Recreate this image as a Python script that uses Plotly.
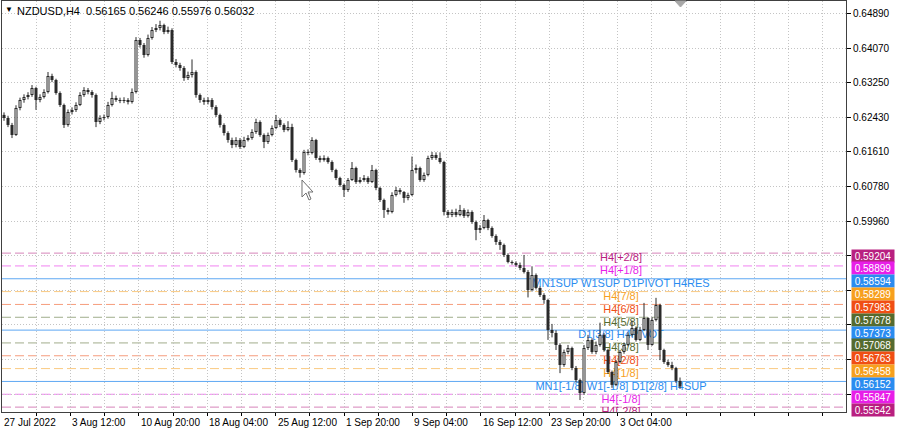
import plotly.graph_objects as go

# ---------------- data ----------------
symbol_title = "NZDUSD,H4  0.56165 0.56246 0.55976 0.56032"
first_open = 0.6249
closes = [
    0.62417, 0.62251, 0.62013, 0.62655, 0.62845, 0.62916, 0.62964, 0.63130, 0.62845, 0.62916,
    0.63035, 0.63416, 0.63321, 0.63011, 0.62726, 0.62251, 0.62560, 0.62607, 0.62726, 0.62964,
    0.63083, 0.63035, 0.62964, 0.62322, 0.62417, 0.62441, 0.62726, 0.62893, 0.62845, 0.62821,
    0.62845, 0.62797, 0.63035, 0.64272, 0.64153, 0.63915, 0.64319, 0.64509, 0.64557, 0.64628,
    0.64462, 0.64509, 0.63749, 0.63677, 0.63606, 0.63368, 0.63440, 0.63511, 0.62964, 0.62845,
    0.62797, 0.62845, 0.62679, 0.62488, 0.62251, 0.62060, 0.61894, 0.61775, 0.61894, 0.61727,
    0.61894, 0.61941, 0.62084, 0.62322, 0.62013, 0.61846, 0.62013, 0.62179, 0.62369, 0.62251,
    0.62132, 0.62203, 0.61418, 0.61180, 0.61109, 0.61608, 0.61585, 0.61894, 0.61466, 0.61418,
    0.61466, 0.61371, 0.61180, 0.60990, 0.60824, 0.60705, 0.60943, 0.61228, 0.60895, 0.60943,
    0.60990, 0.60895, 0.61180, 0.60752, 0.60467, 0.60229, 0.60182, 0.60586, 0.60705, 0.60657,
    0.60515, 0.60586, 0.61180, 0.61228, 0.60943, 0.61062, 0.61466, 0.61537, 0.61466, 0.61371,
    0.60182, 0.60110, 0.60182, 0.60110, 0.60229, 0.60087, 0.60182, 0.59944, 0.59754, 0.59801,
    0.59991, 0.59801, 0.59611, 0.59468, 0.59397, 0.59159, 0.58993, 0.58969, 0.58922, 0.58851,
    0.58755, 0.58327, 0.58684, 0.58374, 0.58208, 0.58089, 0.57376, 0.57305, 0.57020, 0.56543,
    0.56852, 0.56948, 0.56472, 0.56187, 0.55878, 0.56948, 0.57138, 0.56852, 0.57020, 0.57260,
    0.56900, 0.56377, 0.56070, 0.56615, 0.56852, 0.57020, 0.57260, 0.57423, 0.57138, 0.57376,
    0.57661, 0.57020, 0.57614, 0.57970, 0.56900, 0.56615, 0.56543, 0.56472, 0.56165, 0.56032,
]
highs = [
    0.6255, 0.6247, 0.6230, 0.6272, 0.6290, 0.6298, 0.6303, 0.6320, 0.6316, 0.6298,
    0.6310, 0.6351, 0.6347, 0.6335, 0.6305, 0.6276, 0.6262, 0.6267, 0.6279, 0.6303,
    0.6315, 0.6313, 0.6308, 0.6300, 0.6248, 0.6250, 0.6280, 0.6304, 0.6295, 0.6290,
    0.6291, 0.6289, 0.6312, 0.6434, 0.6432, 0.6420, 0.6440, 0.6458, 0.6465, 0.6473,
    0.6466, 0.6459, 0.6455, 0.6382, 0.6373, 0.6365, 0.6352, 0.6381, 0.6355, 0.6300,
    0.6290, 0.6291, 0.6289, 0.6272, 0.6252, 0.6229, 0.6210, 0.6195, 0.6196, 0.6194,
    0.6197, 0.6201, 0.6215, 0.6240, 0.6236, 0.6205, 0.6207, 0.6224, 0.6249, 0.6241,
    0.6229, 0.6234, 0.6228, 0.6145, 0.6122, 0.6166, 0.6167, 0.6196, 0.6192, 0.6152,
    0.6153, 0.6150, 0.6141, 0.6121, 0.6102, 0.6086, 0.6099, 0.6137, 0.6126, 0.6101,
    0.6106, 0.6103, 0.6130, 0.6121, 0.6078, 0.6050, 0.6028, 0.6065, 0.6078, 0.6075,
    0.6068, 0.6064, 0.6150, 0.6131, 0.6126, 0.6112, 0.6152, 0.6161, 0.6160, 0.6160,
    0.6140, 0.6023, 0.6024, 0.6026, 0.6035, 0.6027, 0.6024, 0.6022, 0.5998, 0.5987,
    0.6011, 0.6002, 0.5984, 0.5965, 0.5952, 0.5943, 0.5920, 0.5903, 0.5901, 0.5898,
    0.5916, 0.5880, 0.5889, 0.5872, 0.5841, 0.5825, 0.5812, 0.5752, 0.5737, 0.5706,
    0.5691, 0.5702, 0.5698, 0.5652, 0.5622, 0.5702, 0.5726, 0.5718, 0.5710, 0.5755,
    0.5730, 0.5693, 0.5641, 0.5666, 0.5690, 0.5708, 0.5732, 0.5760, 0.5746, 0.5745,
    0.5802, 0.5768, 0.5768, 0.5814, 0.5800, 0.5693, 0.5667, 0.5662, 0.5650, 0.56246,
]
lows = [
    0.6235, 0.6220, 0.6194, 0.6199, 0.6260, 0.6278, 0.6286, 0.6292, 0.6261, 0.6279,
    0.6288, 0.6300, 0.6327, 0.6297, 0.6268, 0.6218, 0.6221, 0.6250, 0.6256, 0.6270,
    0.6292, 0.6298, 0.6290, 0.6220, 0.6227, 0.6236, 0.6240, 0.6269, 0.6280, 0.6277,
    0.6277, 0.6274, 0.6276, 0.6300, 0.6409, 0.6385, 0.6388, 0.6428, 0.6446, 0.6450,
    0.6441, 0.6442, 0.6370, 0.6362, 0.6354, 0.6330, 0.6332, 0.6338, 0.6290, 0.6278,
    0.6273, 0.6274, 0.6262, 0.6244, 0.6219, 0.6200, 0.6183, 0.6170, 0.6172, 0.6168,
    0.6170, 0.6186, 0.6190, 0.6204, 0.6197, 0.6170, 0.6180, 0.6198, 0.6215, 0.6220,
    0.6208, 0.6210, 0.6137, 0.6112, 0.6100, 0.6107, 0.6153, 0.6155, 0.6142, 0.6136,
    0.6138, 0.6133, 0.6113, 0.6094, 0.6078, 0.6054, 0.6066, 0.6092, 0.6085, 0.6086,
    0.6090, 0.6085, 0.6087, 0.6070, 0.6042, 0.6004, 0.6012, 0.6015, 0.6055, 0.6060,
    0.6040, 0.6046, 0.6056, 0.6110, 0.6090, 0.6090, 0.6103, 0.6142, 0.6142, 0.6133,
    0.6010, 0.6004, 0.6006, 0.6006, 0.6008, 0.6004, 0.6005, 0.5990, 0.5951, 0.5968,
    0.5977, 0.5975, 0.5957, 0.5940, 0.5928, 0.5911, 0.5896, 0.5893, 0.5888, 0.5880,
    0.5872, 0.5815, 0.5829, 0.5834, 0.5816, 0.5800, 0.5714, 0.5720, 0.5690, 0.5635,
    0.5650, 0.5680, 0.5642, 0.5613, 0.5571, 0.5584, 0.5690, 0.5681, 0.5680, 0.5698,
    0.5686, 0.5633, 0.5600, 0.5604, 0.5658, 0.5681, 0.5699, 0.5722, 0.5710, 0.5711,
    0.5735, 0.5690, 0.5700, 0.5758, 0.5666, 0.5657, 0.5650, 0.5642, 0.5612, 0.55976,
]
opens = [first_open] + closes[:-1]
bar_index = list(range(len(closes)))

time_labels = ["27 Jul 2022", "3 Aug 12:00", "10 Aug 20:00", "18 Aug 04:00", "25 Aug 12:00",
               "1 Sep 20:00", "9 Sep 04:00", "16 Sep 12:00", "23 Sep 20:00", "3 Oct 04:00"]
price_ticks = [0.64890, 0.64070, 0.63250, 0.62430, 0.61610, 0.60780, 0.59960,
               0.59139, 0.58317, 0.57496, 0.56674, 0.55853]
price_tick_text = ["0.64890", "0.64070", "0.63250", "0.62430", "0.61610", "0.60780", "0.59960",
                   "", "", "", "", ""]

level_prices = [0.59204, 0.58899, 0.58594, 0.58289, 0.57983, 0.57678, 0.57373,
                0.57068, 0.56763, 0.56458, 0.56152, 0.55847, 0.55542]
level_names = ["H4[+2/8]", "H4[+1/8]", "MN1SUP W1SUP D1PIVOT H4RES", "H4[7/8]", "H4[6/8]",
               "H4[5/8]", "D1[3/8] H4PIVOT", "H4[3/8]", "H4[2/8]", "H4[1/8]",
               "MN1[-1/8] W1[-1/8] D1[2/8] H4SUP", "H4[-1/8]", "H4[-2/8]"]
level_solid = [False, False, True, False, False, False, True, False, False, False, True, False, False]

# ---------------- styles ----------------
C_VIOLET = "#B82080"
C_MAGENTA = "#E81EE8"
C_BLUE = "#2A8CF0"
C_ORANGE = "#F7A01E"
C_ORED = "#F04E14"
C_OLIVE = "#556B2F"
level_colors = [C_VIOLET, C_MAGENTA, C_BLUE, C_ORANGE, C_ORED, C_OLIVE, C_BLUE,
                C_OLIVE, C_ORED, C_ORANGE, C_BLUE, C_MAGENTA, C_VIOLET]
FONT = "Liberation Sans, Arial, sans-serif"
CANDLE = "#2a2a2a"

W, H = 900, 431
ML, MR, MT, MB = 2, 54, 1, 19
PW, PH = W - ML - MR, H - MT - MB
PX_PER_BAR = 4.0
x0 = -0.5
x1 = x0 + PW / PX_PER_BAR
y_lo, y_hi = 0.554256, 0.65199
PRICE_PER_PX = (y_hi - y_lo) / PH
GRID_STEP = 34.2 / PX_PER_BAR
grid_x = [x0 + GRID_STEP * m for m in range(1, 25)]
label_x = [x0 + 2 * GRID_STEP * k for k in range(len(time_labels))]
level_text_x = x0 + (621 - ML) / PX_PER_BAR

fig = go.Figure()

for p, col, solid in zip(level_prices, level_colors, level_solid):
    fig.add_shape(type="line", xref="paper", x0=0, x1=1, yref="y", y0=p, y1=p,
                  line=dict(color=col, width=1, dash="solid" if solid else "9px,4px"),
                  opacity=0.75 if solid else 0.55, layer="below")

# level texts (drawn first so the candles lie over them, as in the original)
fig.add_trace(go.Scatter(
    x=[level_text_x] * len(level_prices), y=level_prices, mode="text",
    text=level_names, textposition="bottom center",
    textfont=dict(family=FONT, size=11, color=level_colors),
    cliponaxis=True, hoverinfo="skip", showlegend=False))

# candles: wicks, bodies, hollow interior of up-bodies
wx, wy, bx, by, ux, uy = [], [], [], [], [], []
for i, o, h, l, c in zip(bar_index, opens, highs, lows, closes):
    wx += [i, i, None]
    wy += [l, h, None]
    lo_b, hi_b = min(o, c), max(o, c)
    if hi_b - lo_b < PRICE_PER_PX:
        mid = (hi_b + lo_b) / 2
        lo_b, hi_b = mid - PRICE_PER_PX / 2, mid + PRICE_PER_PX / 2
    bx += [i, i, None]
    by += [lo_b, hi_b, None]
    if c > o and hi_b - lo_b > 2.5 * PRICE_PER_PX:
        ux += [i, i, None]
        uy += [lo_b + PRICE_PER_PX, hi_b - PRICE_PER_PX, None]

fig.add_trace(go.Scatter(x=wx, y=wy, mode="lines", line=dict(color=CANDLE, width=1),
                         hoverinfo="skip", showlegend=False))
fig.add_trace(go.Scatter(x=bx, y=by, mode="lines", line=dict(color=CANDLE, width=3),
                         hoverinfo="skip", showlegend=False))
fig.add_trace(go.Scatter(x=ux, y=uy, mode="lines", line=dict(color="white", width=1),
                         hoverinfo="skip", showlegend=False))

annotations = []
for p, col in zip(level_prices, level_colors):
    annotations.append(dict(
        x=1, xref="paper", xanchor="left", xshift=5, y=p, yref="y", yanchor="middle", yshift=-2.5,
        text="%.5f" % p, showarrow=False, bgcolor=col, width=40, height=10, borderpad=1,
        font=dict(family=FONT, size=10, color="white"), align="center"))
for lx, lt in zip(label_x, time_labels):
    annotations.append(dict(
        x=lx, xref="x", xanchor="left", xshift=0, y=0, yref="paper", yanchor="top", yshift=-3,
        text=lt, showarrow=False, font=dict(family=FONT, size=10, color="black")))
annotations.append(dict(x=0, xref="paper", xanchor="left", xshift=1, y=1, yref="paper",
                        yanchor="top", yshift=-2, text="▼", showarrow=False,
                        font=dict(family=FONT, size=8, color="black")))
annotations.append(dict(x=0, xref="paper", xanchor="left", xshift=13, y=1, yref="paper",
                        yanchor="top", yshift=-2, text=symbol_title, showarrow=False,
                        font=dict(family=FONT, size=11, color="black")))

def ppath(points):
    s = ""
    for i, (px, py) in enumerate(points):
        s += ("M" if i == 0 else "L") + "%.5f,%.5f " % ((px - ML) / PW, (H - MB - py) / PH)
    return s + "Z"

shapes_extra = [
    dict(type="path", xref="paper", yref="paper",
         path=ppath([(302, 180), (302, 197), (306, 193), (309, 200), (311, 199), (308, 192), (313, 192)]),
         fillcolor="white", line=dict(color="#707070", width=1), layer="above"),
    dict(type="path", xref="paper", yref="paper",
         path=ppath([(675, 1), (686, 1), (680.5, 7)]),
         fillcolor="#A8A8A8", line=dict(color="#A8A8A8", width=1), layer="above"),
]
for s in shapes_extra:
    fig.add_shape(**s)

fig.update_layout(
    width=W, height=H, margin=dict(l=ML, r=MR, t=MT, b=MB),
    paper_bgcolor="white", plot_bgcolor="white", showlegend=False,
    annotations=annotations,
    xaxis=dict(range=[x0, x1], tickvals=grid_x, showticklabels=False, ticks="outside",
               ticklen=3, tickcolor="black", showgrid=True, gridcolor="#C4C4C4", griddash="1px,2px",
               gridwidth=1, zeroline=False, showline=True, linecolor="#404040", linewidth=1,
               mirror=True, automargin=False, fixedrange=True),
    yaxis=dict(range=[y_lo, y_hi], side="right", tickvals=price_ticks, ticktext=price_tick_text,
               ticks="outside", ticklen=4, tickcolor="black", showgrid=True, gridcolor="#C4C4C4",
               griddash="1px,2px", gridwidth=1, zeroline=False, showline=True, linecolor="#404040",
               linewidth=1, mirror=True, automargin=False, fixedrange=True,
               tickfont=dict(family=FONT, size=10, color="black")),
)

fig.write_html("out.html", config={"displayModeBar": False},
               post_script="document.body.style.margin='0px';document.body.style.padding='0px';")
